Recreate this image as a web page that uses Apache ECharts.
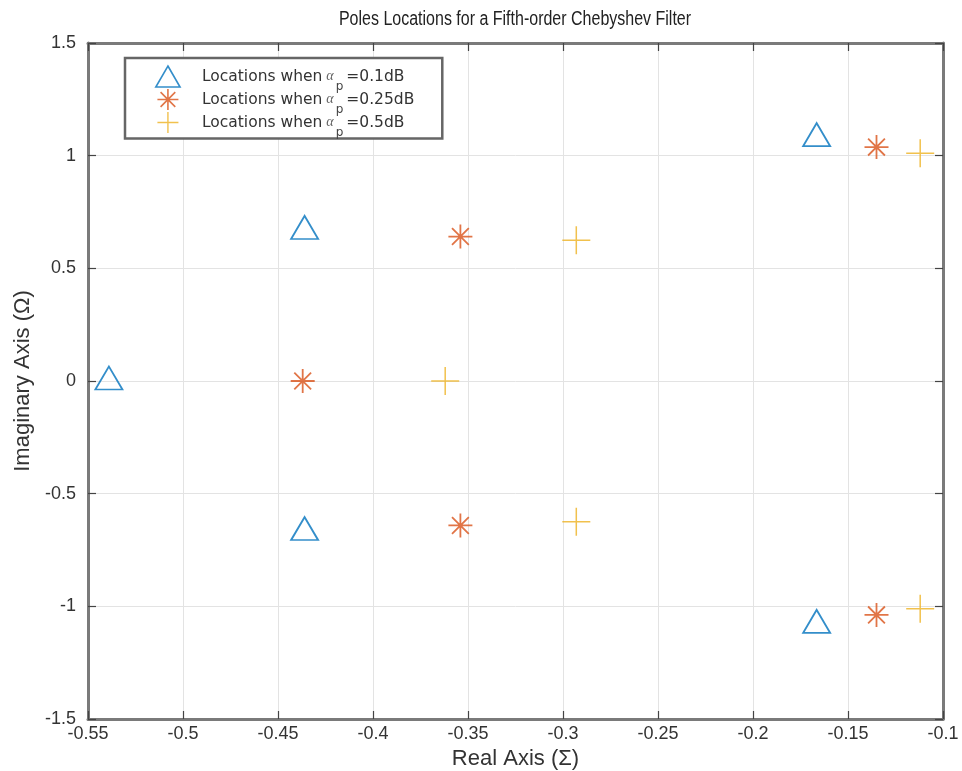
<!DOCTYPE html>
<html><head><meta charset="utf-8">
<script src="https://cdn.jsdelivr.net/npm/echarts@6/dist/echarts.min.js"></script>
<style>html,body{margin:0;padding:0;background:#fff}#c{width:962px;height:771px}</style>
</head><body><div id="c"></div>
<script>
const titleText = 'Poles Locations for a Fifth-order Chebyshev Filter';
const seriesNames = ['0.1dB', '0.25dB', '0.5dB'];
const poles01 = [[-0.539, 0], [-0.436, 0.668], [-0.436, -0.668], [-0.1665, 1.080], [-0.1665, -1.080]];
const poles025 = [[-0.437, 0], [-0.354, 0.641], [-0.354, -0.641], [-0.135, 1.038], [-0.135, -1.038]];
const poles05 = [[-0.362, 0], [-0.293, 0.625], [-0.293, -0.625], [-0.112, 1.011], [-0.112, -1.011]];
const xTicks = {min: -0.55, max: -0.1, interval: 0.05};
const yTicks = {min: -1.5, max: 1.5, interval: 0.5};

const colors = ['#0072BD', '#D95319', '#EDB120'];
const triPath = 'path://M0,-1L0.866,0.5L-0.866,0.5Z';
const starPath = 'path://M0,-1L0,1M-1,0L1,0M-0.7,-0.7L0.7,0.7M-0.7,0.7L0.7,-0.7';
const plusPath = 'path://M0,-1L0,1M-1,0L1,0';
const FONT = '"Liberation Sans", Arial, sans-serif';
const LEG = '"DejaVu Sans", sans-serif';

const chart = echarts.init(document.getElementById('c'));
const fmt = v => String(parseFloat(v.toFixed(2)));
const axisLine = {show: true, onZero: false, lineStyle: {color: '#7a7a7a', width: 3}};
const tick = {show: true, inside: true, length: 8, lineStyle: {color: '#444', width: 1.2}};
const grid = {show: true, lineStyle: {color: '#e3e3e3', width: 1}};
const names = seriesNames.map(s => 'Locations when α_p = ' + s);
const rich = {
  t: {fontSize: 15.5, color: '#333', fontFamily: LEG, lineHeight: 23},
  a: {fontSize: 14, color: '#666', fontFamily: 'serif', fontStyle: 'italic', lineHeight: 23, padding: [0, 0, 0, 4]},
  s: {fontSize: 12, color: '#444', fontFamily: LEG, lineHeight: 12, padding: [20, 3, 0, 2]}
};
chart.setOption({
  animation: false,
  graphic: [{
    type: 'text', x: 515, y: 19, scaleX: 0.8,
    style: {text: titleText, fill: '#222', font: '20px ' + FONT, align: 'center', verticalAlign: 'middle'}
  }],
  grid: {left: 88, right: 19, top: 43, bottom: 52, outerBoundsMode: 'none', containLabel: false},
  legend: {
    orient: 'vertical', left: 125, top: 58, backgroundColor: '#fff',
    borderColor: '#666', borderWidth: 2.5, padding: [2.5, 28, 0, 30], itemGap: -9,
    itemWidth: 26, itemHeight: 21,
    formatter: n => {
      const v = n.split('= ')[1];
      return '{t|Locations when}{a|α}{s|p}{t|=' + v + '}';
    },
    textStyle: {rich: rich, padding: [0, 0, 0, 16]},
    data: [
      {name: names[0], icon: triPath, itemStyle: {color: 'rgba(0,0,0,0)', borderColor: colors[0], borderWidth: 1.6}},
      {name: names[1], icon: starPath, itemStyle: {color: 'rgba(0,0,0,0)', borderColor: colors[1], borderWidth: 1.6}},
      {name: names[2], icon: plusPath, itemStyle: {color: 'rgba(0,0,0,0)', borderColor: colors[2], borderWidth: 1.4}}
    ]
  },
  xAxis: [{
    type: 'value', min: xTicks.min, max: xTicks.max, interval: xTicks.interval,
    name: 'Real Axis (Σ)', nameLocation: 'middle', nameGap: 26,
    nameTextStyle: {fontSize: 22, color: '#333', fontFamily: FONT},
    axisLine: axisLine, axisTick: tick, splitLine: grid,
    axisLabel: {formatter: fmt, fontSize: 18, color: '#333', fontFamily: FONT, margin: 6, showMinLabel: true, showMaxLabel: true}
  }, {
    type: 'value', position: 'top', min: xTicks.min, max: xTicks.max, interval: xTicks.interval,
    axisLine: axisLine, axisTick: tick, splitLine: {show: false}, axisLabel: {show: false}
  }],
  yAxis: [{
    type: 'value', min: yTicks.min, max: yTicks.max, interval: yTicks.interval,
    name: 'Imaginary Axis (Ω)', nameLocation: 'middle', nameGap: 44,
    nameTextStyle: {fontSize: 22, color: '#333', fontFamily: FONT},
    axisLine: axisLine, axisTick: tick, splitLine: grid,
    axisLabel: {formatter: fmt, fontSize: 18, color: '#333', fontFamily: FONT, margin: 12, showMinLabel: true, showMaxLabel: true}
  }, {
    type: 'value', position: 'right', min: yTicks.min, max: yTicks.max, interval: yTicks.interval,
    axisLine: axisLine, axisTick: tick, splitLine: {show: false}, axisLabel: {show: false}
  }],
  series: [
    {name: names[0], type: 'scatter', data: poles01, symbol: triPath, symbolSize: [27, 23], symbolOffset: [0, -3],
      itemStyle: {color: 'rgba(0,0,0,0)', borderColor: colors[0], borderWidth: 1.8}},
    {name: names[1], type: 'scatter', data: poles025, symbol: starPath, symbolSize: 24,
      itemStyle: {color: 'rgba(0,0,0,0)', borderColor: colors[1], borderWidth: 1.8}},
    {name: names[2], type: 'scatter', data: poles05, symbol: plusPath, symbolSize: 28,
      itemStyle: {color: 'rgba(0,0,0,0)', borderColor: colors[2], borderWidth: 1.5}}
  ]
});
</script></body></html>
